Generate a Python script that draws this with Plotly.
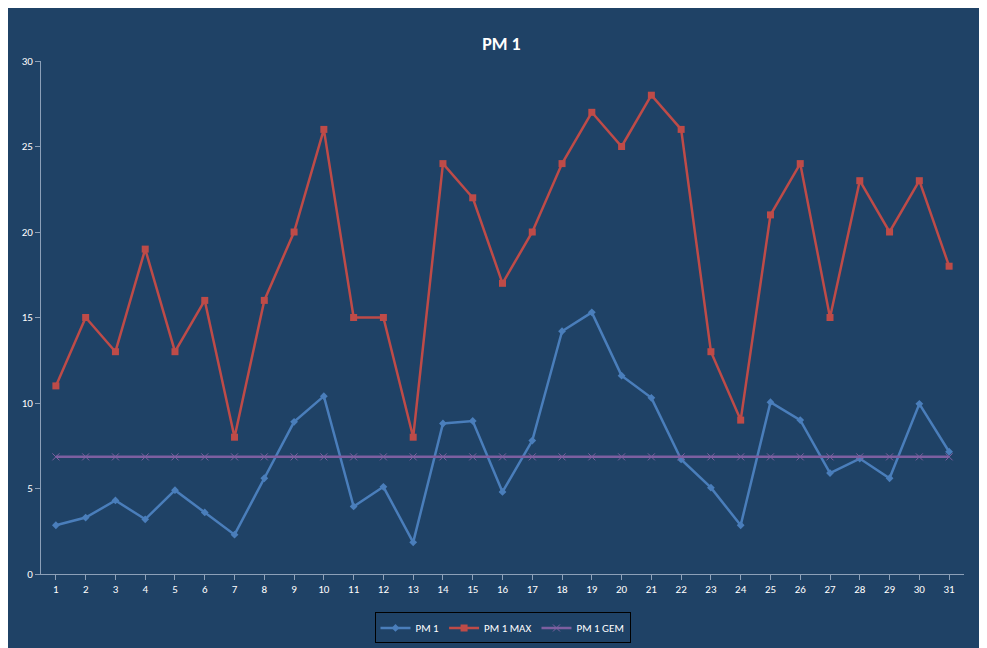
import plotly.graph_objects as go

days = list(range(1, 32))
pm1 = [2.85, 3.3, 4.3, 3.2, 4.9, 3.6, 2.3, 5.6, 8.9, 10.4, 3.95, 5.1, 1.85, 8.8, 8.95,
       4.8, 7.8, 14.2, 15.3, 11.6, 10.3, 6.7, 5.05, 2.85, 10.05, 9.0, 5.9, 6.75, 5.6, 9.95, 7.15]
pm1_max = [11, 15, 13, 19, 13, 16, 8, 16, 20, 26, 15, 15, 8, 24, 22, 17, 20, 24, 27, 25,
           28, 26, 13, 9, 21, 24, 15, 23, 20, 23, 18]
pm1_gem = [6.85] * 31

bg = "#1f4266"
fig = go.Figure()
fig.add_trace(go.Scatter(x=days, y=pm1, name="PM 1", mode="lines+markers",
                         line=dict(color="#4a7ebb", width=2.5),
                         marker=dict(symbol="diamond", size=6, color="#4a7ebb")))
fig.add_trace(go.Scatter(x=days, y=pm1_max, name="PM 1 MAX", mode="lines+markers",
                         line=dict(color="#be4b48", width=2.5),
                         marker=dict(symbol="square", size=7, color="#be4b48")))
fig.add_trace(go.Scatter(x=days, y=pm1_gem, name="PM 1 GEM", mode="lines+markers",
                         line=dict(color="#7d5fa0", width=2.5),
                         marker=dict(symbol="x-thin", size=7, line=dict(color="#7d5fa0", width=1))))

fig.update_layout(
    width=987, height=648, paper_bgcolor=bg, plot_bgcolor=bg,
    title=dict(text="<b>PM 1</b>", x=0.5, y=0.955, font=dict(size=18, color="white", family="Calibri, Liberation Sans, sans-serif")),
    font=dict(color="white", size=11, family="Calibri, Liberation Sans, sans-serif"),
    margin=dict(l=33, r=31, t=53, b=68),
    showlegend=True,
    legend=dict(orientation="h", x=0.5, xanchor="center", y=-0.075, yanchor="top",
                bordercolor="black", borderwidth=1, bgcolor=bg, font=dict(size=11)),
    xaxis=dict(range=[0.5, 31.5], tickmode="array", tickvals=days, showgrid=False,
               showline=True, linecolor="#8ca0b8", ticks="outside", tickcolor="#8ca0b8", zeroline=False),
    yaxis=dict(range=[0, 30], dtick=5, showgrid=False, showline=True, linecolor="#8ca0b8",
               ticks="outside", tickcolor="#8ca0b8", zeroline=False),
)
fig.write_html("out.html")
